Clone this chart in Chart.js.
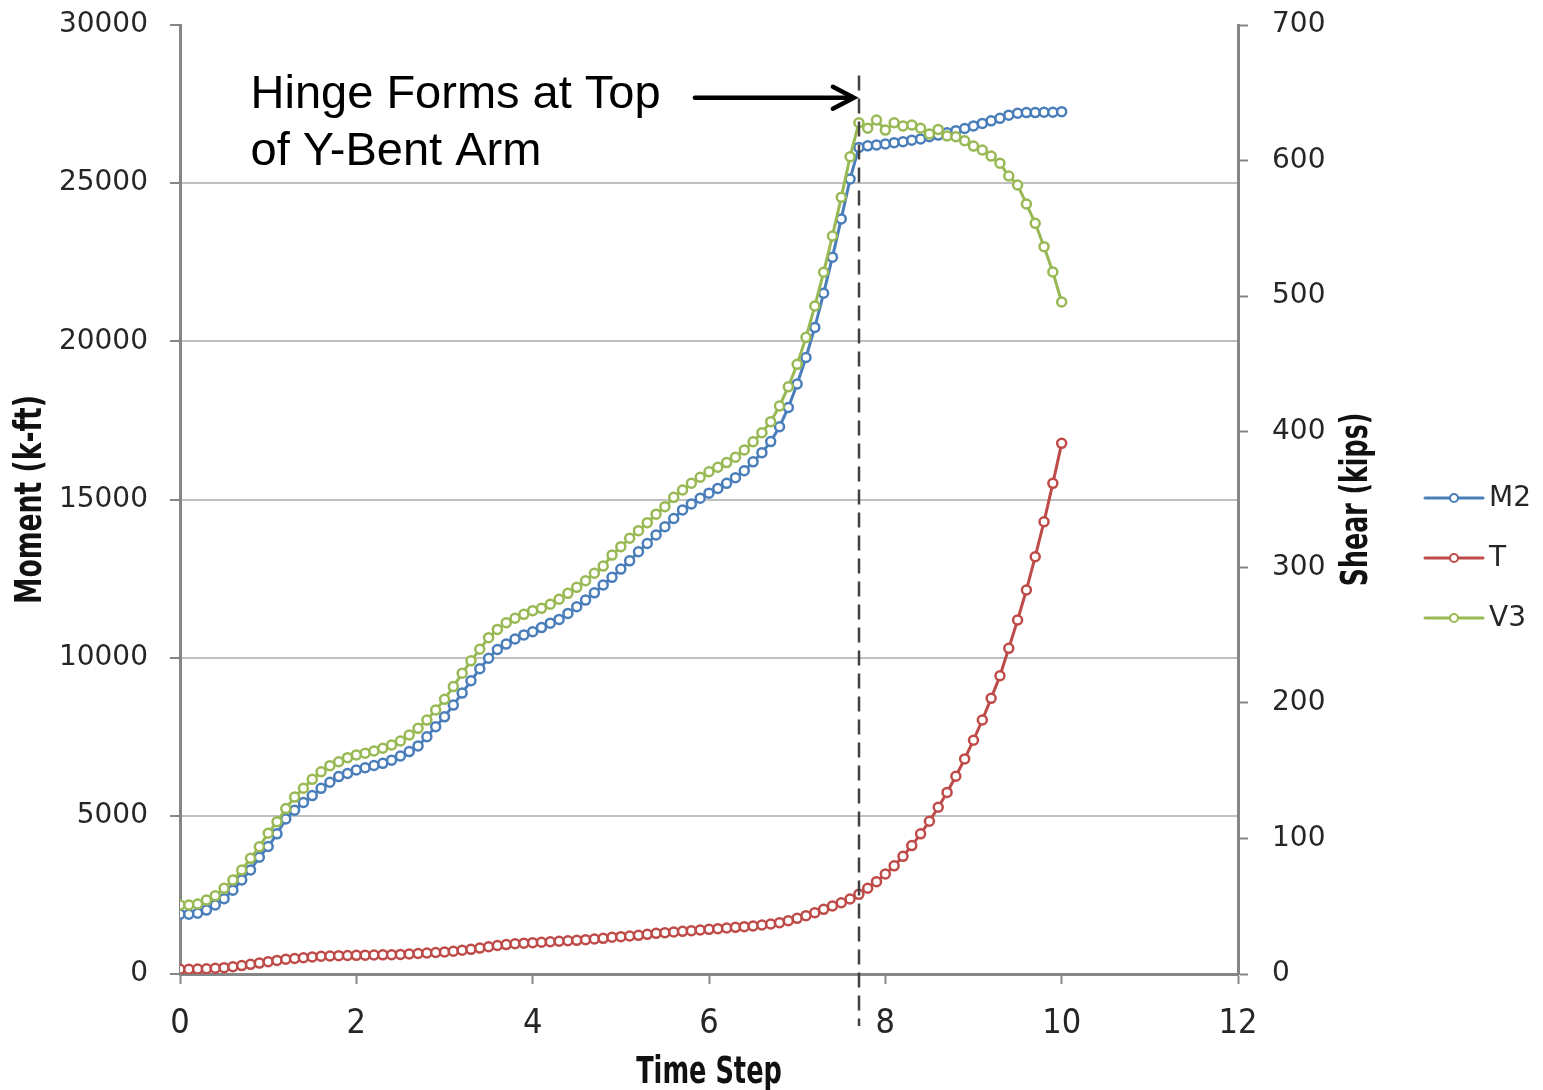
<!DOCTYPE html>
<html lang="en">
<head>
<meta charset="utf-8">
<title>Moment and shear vs time step</title>
<script src="https://cdn.jsdelivr.net/npm/chart.js@4.4.1/dist/chart.umd.min.js"></script>
<style>
    html, body { margin: 0 ; padding: 0 ; background: #fff ; }
    #wrap { width: 1543px ; height: 1090px ; }
</style>
</head>
<body>
<div id="wrap"><canvas id="chart-hinge" width="1543" height="1090"></canvas></div>
<script>
'use strict'

// --------------------------------------------
// DONNEES
// --------------------------------------------
const TIME_STEP = [
    0, 0.1, 0.2, 0.3, 0.4, 0.5, 0.6, 0.7, 0.8, 0.9,
    1, 1.1, 1.2, 1.3, 1.4, 1.5, 1.6, 1.7, 1.8, 1.9,
    2, 2.1, 2.2, 2.3, 2.4, 2.5, 2.6, 2.7, 2.8, 2.9,
    3, 3.1, 3.2, 3.3, 3.4, 3.5, 3.6, 3.7, 3.8, 3.9,
    4, 4.1, 4.2, 4.3, 4.4, 4.5, 4.6, 4.7, 4.8, 4.9,
    5, 5.1, 5.2, 5.3, 5.4, 5.5, 5.6, 5.7, 5.8, 5.9,
    6, 6.1, 6.2, 6.3, 6.4, 6.5, 6.6, 6.7, 6.8, 6.9,
    7, 7.1, 7.2, 7.3, 7.4, 7.5, 7.6, 7.7, 7.8, 7.9,
    8, 8.1, 8.2, 8.3, 8.4, 8.5, 8.6, 8.7, 8.8, 8.9,
    9, 9.1, 9.2, 9.3, 9.4, 9.5, 9.6, 9.7, 9.8, 9.9,
    10
] ;

// Moment M2 (k-ft), axe de gauche
const M2 = [
    1890, 1890, 1920, 2020, 2180, 2380, 2650, 2970, 3290, 3690,
    4030, 4430, 4900, 5180, 5420, 5640, 5870, 6060, 6240, 6340,
    6450, 6520, 6590, 6660, 6760, 6890, 7030, 7210, 7500, 7820,
    8130, 8500, 8880, 9270, 9650, 9980, 10260, 10430, 10590, 10720,
    10820, 10950, 11090, 11210, 11400, 11610, 11820, 12050, 12300, 12540,
    12800, 13060, 13350, 13610, 13880, 14140, 14400, 14670, 14860, 15040,
    15200, 15350, 15510, 15690, 15910, 16190, 16480, 16830, 17300, 17910,
    18650, 19490, 20440, 21520, 22660, 23870, 25130, 26130, 26180, 26210,
    26240, 26280, 26310, 26360, 26400, 26470, 26520, 26590, 26660, 26730,
    26810, 26890, 26970, 27050, 27150, 27210, 27230, 27230, 27240, 27240,
    27260
] ;

// Torsion T (k-ft), axe de gauche
const T = [
    150, 150, 155, 165, 180, 200, 230, 265, 305, 345,
    390, 430, 465, 490, 515, 540, 560, 570, 580, 585,
    590, 595, 600, 605, 610, 620, 632, 648, 664, 680,
    695, 720, 749, 780, 820, 860, 900, 930, 955, 975,
    990, 1005, 1020, 1035, 1050, 1065, 1085, 1105, 1128, 1160,
    1180, 1201, 1222, 1254, 1285, 1306, 1328, 1349, 1370, 1391,
    1412, 1433, 1454, 1475, 1496, 1517, 1549, 1581, 1623, 1686,
    1760, 1844, 1939, 2044, 2149, 2254, 2371, 2519, 2709, 2919,
    3161, 3420, 3720, 4060, 4430, 4830, 5270, 5740, 6250, 6800,
    7390, 8030, 8714, 9429, 10295, 11190, 12138, 13191, 14298, 15511,
    16775
] ;

// Effort tranchant V3 (kips), axe de droite
const V3 = [
    50.9, 50.9, 51.6, 54.6, 57.8, 63.2, 69.3, 76.7, 85.3, 93.9,
    103.8, 112.3, 122, 130.5, 137, 143.6, 149.2, 153.7, 156.6, 159.6,
    161.6, 162.8, 164.5, 166.5, 168.9, 171.9, 176.3, 181.2, 187.3, 194.7,
    202.6, 212, 221.8, 231, 239.5, 248.1, 254.2, 259.1, 262.4, 265.3,
    268, 269.7, 272.7, 276.4, 280.8, 285.2, 290.1, 295.6, 300.9, 309,
    315.2, 321.4, 327, 332.9, 339.2, 344.7, 351.6, 357, 362, 366.4,
    370.5, 373.8, 377.2, 381.2, 386.5, 392.6, 399.3, 407.4, 419, 433.2,
    449.7, 469.6, 492.7, 517.6, 544.4, 572.9, 602.8, 627.9, 623.8, 629.9,
    622.5, 627.9, 625.5, 626.2, 623.8, 619.6, 623, 618.1, 617.6, 614.6,
    610.7, 607.8, 603.3, 598, 588.6, 582, 568, 553.7, 536.5, 517.8,
    495.7
] ;

const SERIES_NAMES  = ['M2', 'T', 'V3'] ;
const SERIES_COLORS = ['#4a7ebb', '#be4b48', '#98b954'] ;

const X_TICKS      = [0, 2, 4, 6, 8, 10, 12] ;
const MOMENT_TICKS = [0, 5000, 10000, 15000, 20000, 25000, 30000] ;
const SHEAR_TICKS  = [0, 100, 200, 300, 400, 500, 600, 700] ;

const HINGE_AT   = 7.7 ;
const HINGE_NOTE = ['Hinge Forms at Top', 'of Y-Bent Arm'] ;

const AXIS_GREY = '#868686' ;
const GRID_GREY = '#c0c0c0' ;
const TEXT_COL  = '#262626' ;
const NARROW    = "'Liberation Sans Narrow', 'DejaVu Sans Condensed', sans-serif" ;


// --------------------------------------------
// TEXTE ETROIT (titres des axes un peu comprimés)
// --------------------------------------------
function narrowText(ctx, text, x, y, angle, squeeze) {
    ctx.save() ;
    ctx.translate(x, y) ;
    ctx.rotate(angle) ;
    ctx.scale(squeeze, 1) ;
    ctx.fillText(text, 0, 0) ;
    ctx.restore() ;
}

// taille fixe des axes pour caler la zone de tracé
function fixAxis(size, prop) {
    return s => {
        s[prop] = size ;
        s.paddingTop = 0 ;
        s.paddingBottom = 0 ;
        s.paddingLeft = 0 ;
        s.paddingRight = 0 ;
    } ;
}


// --------------------------------------------
// ANNOTATIONS : ligne de rotule, titres, légende
// --------------------------------------------
const hingePlugin = {
    id: 'hingeNote',
    afterDatasetsDraw(chart) {
        const { ctx, chartArea, scales } = chart ;
        const x = Math.round(scales.x.getPixelForValue(HINGE_AT)) ;
        ctx.save() ;
        ctx.strokeStyle = '#404040' ;
        ctx.lineWidth = 2.5 ;
        ctx.setLineDash([15, 8]) ;
        ctx.beginPath() ;
        ctx.moveTo(x, scales.y.getPixelForValue(28400)) ;
        ctx.lineTo(x, chartArea.bottom + 52) ;
        ctx.stroke() ;
        ctx.restore() ;
    },
    afterDraw(chart) {
        const { ctx, chartArea, scales } = chart ;
        const sx = scales.x, sy = scales.y ;
        ctx.save() ;

        // texte + flèche
        ctx.fillStyle = '#000' ;
        ctx.font = "47px 'Liberation Sans', Arial, sans-serif" ;
        ctx.textAlign = 'left' ;
        ctx.textBaseline = 'alphabetic' ;
        ctx.fillText(HINGE_NOTE[0], sx.getPixelForValue(0.8), sy.getPixelForValue(27374)) ;
        ctx.fillText(HINGE_NOTE[1], sx.getPixelForValue(0.8), sy.getPixelForValue(25573)) ;

        const ay   = sy.getPixelForValue(27700) ;
        const tipX = sx.getPixelForValue(HINGE_AT) - 5 ;
        ctx.strokeStyle = '#000' ;
        ctx.lineWidth = 4.5 ;
        ctx.lineCap = 'round' ;
        ctx.beginPath() ;
        ctx.moveTo(sx.getPixelForValue(5.84), ay) ;
        ctx.lineTo(tipX - 2, ay) ;
        ctx.stroke() ;
        ctx.beginPath() ;
        ctx.moveTo(tipX - 21, ay - 11) ;
        ctx.lineTo(tipX, ay) ;
        ctx.lineTo(tipX - 21, ay + 11) ;
        ctx.stroke() ;

        // titres des axes
        ctx.fillStyle = '#111' ;
        ctx.font = 'bold 37px ' + NARROW ;
        ctx.textAlign = 'center' ;
        ctx.textBaseline = 'middle' ;
        const midY = (chartArea.top + chartArea.bottom) / 2 ;
        narrowText(ctx, 'Time Step', (chartArea.left + chartArea.right) / 2, 1073, 0, 0.77) ;
        narrowText(ctx, 'Moment (k-ft)', 31, midY, -Math.PI / 2, 0.8) ;
        narrowText(ctx, 'Shear (kips)', 1357, midY, -Math.PI / 2, 0.76) ;

        // légende
        ctx.font = "28px 'DejaVu Sans', sans-serif" ;
        ctx.textAlign = 'left' ;
        SERIES_NAMES.forEach((name, i) => {
            const ly = 498 + i * 60 ;
            ctx.strokeStyle = SERIES_COLORS[i] ;
            ctx.lineWidth = 3 ;
            ctx.beginPath() ;
            ctx.moveTo(1425, ly) ;
            ctx.lineTo(1483, ly) ;
            ctx.stroke() ;
            ctx.beginPath() ;
            ctx.arc(1454, ly, 4, 0, Math.PI * 2) ;
            ctx.fillStyle = '#fff' ;
            ctx.fill() ;
            ctx.lineWidth = 2 ;
            ctx.stroke() ;
            ctx.fillStyle = TEXT_COL ;
            ctx.fillText(name, 1489, ly + 1) ;
        }) ;

        ctx.restore() ;
    }
} ;


// --------------------------------------------
// GRAPHIQUE LIGNES : M2, T, V3 en fonction du pas de temps
// --------------------------------------------
function makeDataset(label, values, i, axis, order) {
    return {
        label,
        data: values.map((v, k) => ({ x: TIME_STEP[k], y: v })),
        yAxisID: axis,
        order,
        borderColor: SERIES_COLORS[i],
        borderWidth: 3,
        pointRadius: 4.5,
        pointBorderWidth: 2.5,
        pointBackgroundColor: '#fff',
        pointBorderColor: SERIES_COLORS[i],
        tension: 0,
    } ;
}

const tickFont = { family: "'DejaVu Sans', sans-serif", size: 28 } ;

new Chart(document.getElementById('chart-hinge'), {
    type: 'line',
    data: {
        datasets: [
            makeDataset(SERIES_NAMES[0], M2, 0, 'y', 2),
            makeDataset(SERIES_NAMES[1], T, 1, 'y', 1),
            makeDataset(SERIES_NAMES[2], V3, 2, 'y1', 0),
        ]
    },
    plugins: [hingePlugin],
    options: {
        responsive: false,
        animation: false,
        devicePixelRatio: 1,
        layout: { padding: { top: 25, left: 0, right: 0, bottom: 0 } },
        plugins: {
            legend: { display: false },
            tooltip: { enabled: false },
        },
        scales: {
            x: {
                type: 'linear',
                min: X_TICKS[0],
                max: X_TICKS[X_TICKS.length - 1],
                afterBuildTicks: s => { s.ticks = X_TICKS.map(v => ({ value: v })) },
                afterFit: fixAxis(116, 'height'),
                ticks: {
                    color: TEXT_COL,
                    padding: 20,
                    maxRotation: 0,
                    font: { family: NARROW, size: 34 },
                },
                grid: {
                    drawOnChartArea: false,
                    tickLength: 10,
                    tickColor: AXIS_GREY,
                    tickWidth: 2,
                },
                border: { color: AXIS_GREY, width: 3 },
            },
            y: {
                position: 'left',
                min: MOMENT_TICKS[0],
                max: MOMENT_TICKS[MOMENT_TICKS.length - 1],
                afterBuildTicks: s => { s.ticks = MOMENT_TICKS.map(v => ({ value: v })) },
                afterFit: fixAxis(180, 'width'),
                ticks: {
                    color: TEXT_COL,
                    padding: 22,
                    font: tickFont,
                    callback: v => String(v),
                },
                grid: {
                    color: c => (c.tick && c.tick.value === MOMENT_TICKS[MOMENT_TICKS.length - 1]) ? 'rgba(0,0,0,0)' : GRID_GREY,
                    lineWidth: 2,
                    tickLength: 10,
                    tickColor: AXIS_GREY,
                    tickWidth: 2,
                },
                border: { color: AXIS_GREY, width: 3 },
            },
            y1: {
                position: 'right',
                min: SHEAR_TICKS[0],
                max: SHEAR_TICKS[SHEAR_TICKS.length - 1],
                afterBuildTicks: s => { s.ticks = SHEAR_TICKS.map(v => ({ value: v })) },
                afterFit: fixAxis(305, 'width'),
                ticks: {
                    color: TEXT_COL,
                    padding: 24,
                    font: tickFont,
                    callback: v => String(v),
                },
                grid: {
                    drawOnChartArea: false,
                    tickLength: 10,
                    tickColor: AXIS_GREY,
                    tickWidth: 2,
                },
                border: { color: AXIS_GREY, width: 3 },
            }
        }
    }
}) ;
</script>
</body>
</html>
